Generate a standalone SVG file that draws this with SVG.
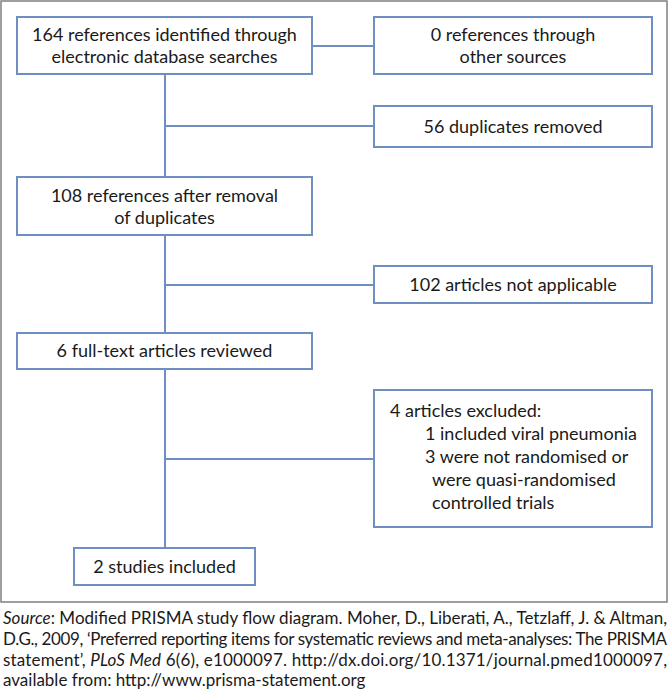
<svg xmlns="http://www.w3.org/2000/svg" width="670" height="689" viewBox="0 0 670 689">
<style>
.box{fill:#fff;stroke:#6f8fc4;stroke-width:2}
.ln{stroke:#6f8fc4;stroke-width:2;fill:none}
.t{font-family:Lato,"Liberation Sans",sans-serif;font-size:18px;fill:#1a1a1a}
.c{text-anchor:middle}
.f{font-family:Lato,"Liberation Sans",sans-serif;font-size:17px;fill:#1a1a1a}
</style>
<rect x="1" y="1" width="666" height="601" fill="#fff" stroke="#7f7f7f" stroke-width="1.5"/>
<g id="connectors">
<line class="ln" x1="312" y1="46" x2="374" y2="46"/>
<line class="ln" x1="165" y1="74" x2="165" y2="177"/>
<line class="ln" x1="165" y1="126" x2="374" y2="126"/>
<line class="ln" x1="165" y1="235" x2="165" y2="333"/>
<line class="ln" x1="165" y1="285" x2="374" y2="285"/>
<line class="ln" x1="165" y1="369" x2="165" y2="548"/>
<line class="ln" x1="165" y1="459" x2="374" y2="459"/>
</g>
<g id="n1"><rect class="box" x="17" y="17" width="295" height="57"/>
<text class="t c" x="164.5" y="41">164 references identified through</text>
<text class="t c" x="164.5" y="63">electronic database searches</text></g>
<g id="n2"><rect class="box" x="374" y="17" width="278" height="57"/>
<text class="t c" x="513" y="41">0 references through</text>
<text class="t c" x="513" y="63">other sources</text></g>
<g id="n3"><rect class="box" x="374" y="106" width="278" height="41"/>
<text class="t c" x="513" y="133">56 duplicates removed</text></g>
<g id="n4"><rect class="box" x="17" y="177" width="295" height="58"/>
<text class="t c" x="164.5" y="202">108 references after removal</text>
<text class="t c" x="164.5" y="224">of duplicates</text></g>
<g id="n5"><rect class="box" x="374" y="266" width="278" height="37"/>
<text class="t c" x="513" y="291">102 articles not applicable</text></g>
<g id="n6"><rect class="box" x="17" y="333" width="295" height="36"/>
<text class="t c" x="164.5" y="357">6 full-text articles reviewed</text></g>
<g id="n7"><rect class="box" x="374" y="390" width="278" height="137"/>
<text class="t" x="390" y="417">4 articles excluded:</text>
<text class="t" x="425" y="440">1 included viral pneumonia</text>
<text class="t" x="425" y="463">3 were not randomised or</text>
<text class="t" x="432" y="486">were quasi-randomised</text>
<text class="t" x="432" y="509">controlled trials</text></g>
<g id="n8"><rect class="box" x="74" y="548" width="181" height="37"/>
<text class="t c" x="164.5" y="573">2 studies included</text></g>
<g id="caption">
<text class="f" x="3" y="624" textLength="664" lengthAdjust="spacing"><tspan font-style="italic">Source</tspan>: Modified PRISMA study flow diagram. Moher, D., Liberati, A., Tetzlaff, J. &amp; Altman,</text>
<text class="f" x="3" y="645" textLength="664" lengthAdjust="spacing">D.G., 2009, ‘Preferred reporting items for systematic reviews and meta-analyses: The PRISMA</text>
<text class="f" x="3" y="665.5" textLength="664" lengthAdjust="spacing">statement’, <tspan font-style="italic">PLoS Med</tspan> 6(6), e1000097. http://dx.doi.org/10.1371/journal.pmed1000097,</text>
<text class="f" x="3" y="686">available from: http://www.prisma-statement.org</text>
</g>
</svg>
